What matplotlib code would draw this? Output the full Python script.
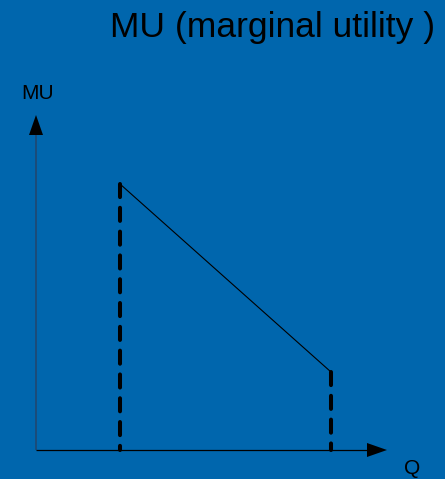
import matplotlib
matplotlib.use("Agg")
import matplotlib.pyplot as plt
from matplotlib.patches import Polygon

# Data (arbitrary units, origin at axis corner)
q_points = [8.4, 29.5]      # quantities where the dashed verticals sit
mu_points = [26.6, 7.8]     # marginal utility at those quantities
title_text = "MU (marginal utility )"
y_label = "MU"
x_label = "Q"

BG = "#0066ad"
plt.rcParams['font.family'] = ['Liberation Sans', 'DejaVu Sans']

fig = plt.figure(figsize=(4.45, 4.79), dpi=100, facecolor=BG)
ax = fig.add_axes([0, 0, 1, 1])
ax.set_facecolor(BG)
ax.set_xlim(-3.6, 40.9)
ax.set_ylim(-2.9, 45.0)
ax.axis('off')

# Axes lines
x_tip = 35.1
y_tip = 33.5
ax.plot([0, 0], [0, y_tip - 2.0], color="#1d4a75", lw=1.3, solid_capstyle='butt')
ax.plot([0, x_tip - 2.0], [0, 0], color="black", lw=0.9, solid_capstyle='butt')
ax.add_patch(Polygon([[0, y_tip], [-0.7, y_tip - 2.0], [0.7, y_tip - 2.0]],
                     closed=True, color="black", lw=0))
ax.add_patch(Polygon([[x_tip, 0], [x_tip - 2.0, 0.7], [x_tip - 2.0, -0.7]],
                     closed=True, color="black", lw=0))

# MU line
ax.plot(q_points, mu_points, color="black", lw=0.8)

# Dashed verticals
for q, mu in zip(q_points, mu_points):
    ax.plot([q, q], [mu, 0], color="black", lw=2.9, linestyle=(0, (3.25, 2.66)),
            dash_capstyle='round', solid_capstyle='round')

# Labels
ax.text(0.15, 35.1, y_label, fontsize=15, ha='center', va='baseline', color='black')
ax.text(37.6, -2.45, x_label, fontsize=15, ha='center', va='baseline', color='black')
fig.text(0.977, 0.923, title_text, fontsize=25.5, ha='right', va='baseline', color='black')

fig.savefig("out.png", dpi=100, facecolor=BG)
